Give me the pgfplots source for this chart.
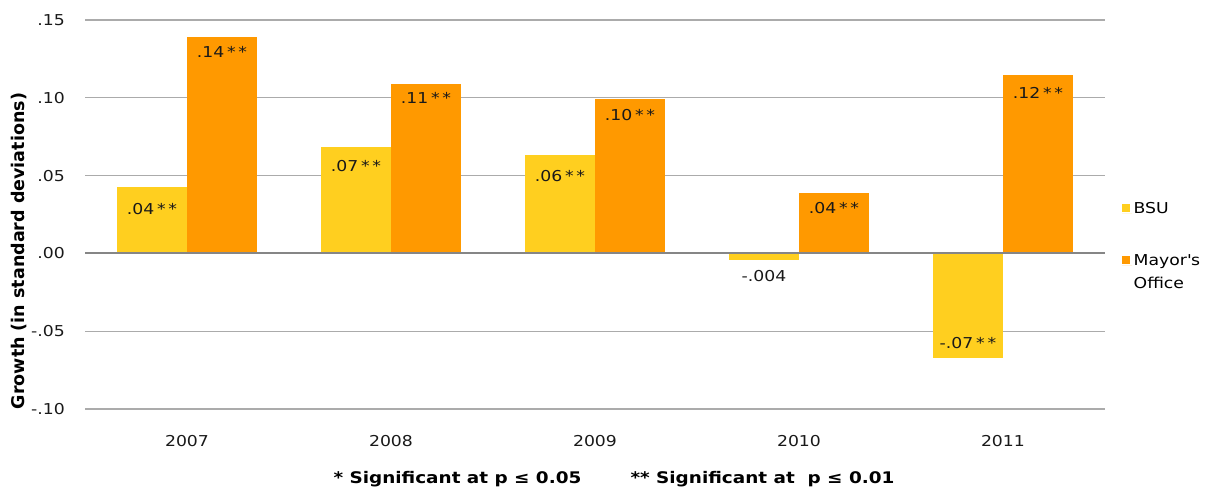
\documentclass[border=0pt]{standalone}
\usepackage{fontspec}
\setmainfont{DejaVu Sans}[FakeStretch=1.15]
\newfontfamily\plainfont{DejaVu Sans}
\usepackage{pgfplots}
\pgfplotsset{compat=1.18}
\definecolor{bsu}{HTML}{FFCF1F}
\definecolor{mayor}{HTML}{FF9900}
\definecolor{gridc}{HTML}{ABABAB}
\definecolor{zeroc}{HTML}{868686}
\newcommand{\sig}{\kern2.8bp*\kern2.8bp*}
\newcommand{\fs}{\fontsize{15bp}{18bp}\selectfont}

\pgfplotsset{
  lab/.style 2 args={nodes near coords, point meta=explicit symbolic,
    every node near coord/.append style={anchor=#1, yshift=#2, inner sep=0pt, font=\fs, text=black!90}},
  B/.style={fill=bsu, draw=none, bar shift=-35bp,
    legend image code/.code={\fill[bsu] (0bp,1.5bp) rectangle (8bp,9.5bp); \path (0bp,0bp) -- (10bp,0bp);}},
  M/.style={fill=mayor, draw=none, bar shift=35bp,
    legend image code/.code={\fill[mayor] (0bp,1.5bp) rectangle (8bp,9.5bp); \path (0bp,0bp) -- (10bp,0bp);}},
}

\begin{document}
\begin{tikzpicture}
\begin{axis}[
  at={(85bp,80bp)}, anchor=south west,
  scale only axis, width=1020bp, height=389bp,
  ymin=-0.10, ymax=0.15, xmin=-0.5, xmax=4.5,
  ybar, bar width=70bp,
  axis line style={draw=none}, major tick style={draw=none},
  ymajorgrids, grid style={gridc, line width=1.2bp},
  xtick={0,1,2,3,4}, xticklabels={2007,2008,2009,2010,2011},
  ytick={-0.1,-0.05,0,0.05,0.1,0.15},
  yticklabels={-.10,-.05,.00,.05,.10,.15},
  yticklabel style={anchor=east, inner sep=0pt, xshift=-20bp, font=\fs, text=black!90},
  xticklabel style={anchor=north, inner sep=0pt, yshift=-22bp, font=\fs, text=black!90},
  ylabel={Growth (in standard deviations)},
  ylabel style={at={(axis description cs:-0.0647,0.406)}, anchor=center,
    font=\plainfont\bfseries\fontsize{17.5bp}{20bp}\selectfont},
  legend style={at={(1.0167,0.535)}, anchor=north west, draw=none, fill=none,
    font=\fontsize{15bp}{23bp}\selectfont, inner sep=0pt,
    cells={anchor=base west}, row sep=36bp,
    nodes={inner sep=1.5bp}},
]
% BSU 2007 and Mayor's Office 2007 (legend entries)
\addplot[B, lab={north}{-17bp}] coordinates {(0,0.0429) [.04\sig]};
\addplot[M, lab={north}{-9.5bp}] coordinates {(0,0.1391) [.14\sig]};
% BSU 2008-2011
\addplot[B, forget plot, lab={north}{-14bp}] coordinates {(1,0.0686) [.07\sig]};
\addplot[B, forget plot, lab={north}{-15bp}] coordinates {(2,0.0633) [.06\sig]};
\addplot[B, forget plot, lab={north}{-10bp}] coordinates {(3,-0.0042) [-.004]};
\addplot[B, forget plot, lab={south}{9.5bp}] coordinates {(4,-0.0672) [-.07\sig]};
% Mayor's Office 2008-2011
\addplot[M, forget plot, lab={north}{-8.7bp}] coordinates {(1,0.1089) [.11\sig]};
\addplot[M, forget plot, lab={north}{-10bp}] coordinates {(2,0.0991) [.10\sig]};
\addplot[M, forget plot, lab={north}{-10bp}] coordinates {(3,0.0391) [.04\sig]};
\addplot[M, forget plot, lab={north}{-12bp}] coordinates {(4,0.1147) [.12\sig]};
\legend{BSU, \vtop{\hbox{Mayor\textquotesingle s}\hbox{Office}}}
\draw[zeroc, line width=2bp] (axis cs:-0.5,0) -- (axis cs:4.5,0);
\end{axis}
\node[anchor=base west, font=\bfseries\fontsize{16bp}{18bp}\selectfont] at (330bp,6bp) {* Significant at p ≤ 0.05};
\node[anchor=base west, font=\bfseries\fontsize{16bp}{18bp}\selectfont] at (627bp,6bp) {** Significant at\ \ p ≤ 0.01};
\pgfresetboundingbox
\useasboundingbox (0,0) rectangle (1228bp,489bp);
\end{tikzpicture}
\end{document}
